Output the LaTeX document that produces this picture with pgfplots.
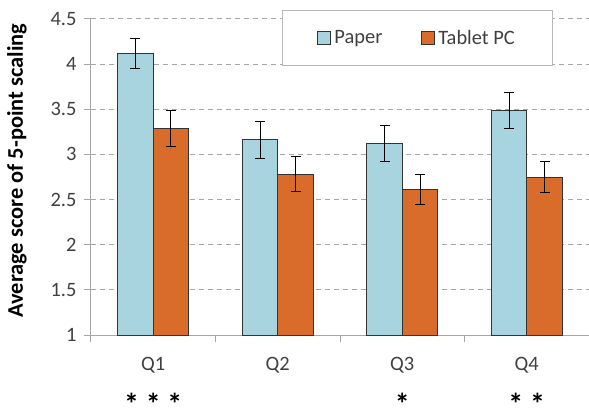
\documentclass[border=0pt]{standalone}
\usepackage{pgfplots}
\pgfplotsset{compat=1.18}
\usepackage{fontspec}
\setmainfont{Carlito}
\definecolor{paper}{HTML}{A7D4DF}
\definecolor{tablet}{HTML}{D96B2B}
\definecolor{axgray}{HTML}{A6A6A6}
\definecolor{txt}{HTML}{404040}
\newcommand{\stars}[1]{{\fontsize{30}{30}\selectfont\bfseries\color{black}#1}}
\begin{document}
\begin{tikzpicture}
\useasboundingbox (-91bp,-79bp) rectangle (498bp,335bp);
\begin{axis}[
  scale only axis,
  width=498bp, height=316bp,
  ymin=1, ymax=4.5,
  xmin=0.5, xmax=4.5,
  ytick={1,1.5,...,4.5},
  xtick={1,2,3,4},
  xticklabels={{Q1\\[19bp]\stars{* * *}},{Q2\\[19bp]\phantom{\stars{*}}},{Q3\\[19bp]\stars{*}},{Q4\\[19bp]\stars{* *}}},
  xticklabel style={align=center, anchor=north, yshift=-15bp, inner ysep=0pt},
  minor xtick={0.5,1.5,2.5,3.5,4.5},
  axis x line*=bottom, axis y line*=left,
  axis line style={axgray, line width=1bp, -},
  tick align=outside,
  major x tick style={draw=none},
  minor x tick style={axgray, line width=1bp},
  major y tick style={axgray, line width=1bp},
  major tick length=7bp, minor tick length=7bp,
  ymajorgrids,
  grid style={axgray, line width=1bp, dash pattern=on 5bp off 4bp},
  /pgf/number format/assume math mode=true,
  yticklabel style={font=\fontsize{20.5}{24}\selectfont, text=txt, xshift=-4bp},
  xticklabel style={font=\fontsize{20.5}{24}\selectfont, text=txt},
  y tick label style={/pgf/number format/fixed},
  ylabel={\textbf{Average score of 5-point scaling}},
  ylabel style={at={(axis description cs:-0.1486,0.52)}, anchor=center, font=\fontsize{22.5}{24}\selectfont},
  ybar=0pt, bar width=35.5bp,
  legend columns=2,
  legend style={at={(rel axis cs:0.3835,1.0285)}, anchor=north west, draw=axgray!80, line width=1bp,
    font=\fontsize{20.5}{24}\selectfont, text=txt, minimum height=45bp, inner xsep=35bp, inner ysep=5bp,
    /tikz/every even column/.append style={column sep=36bp},
    nodes={inner xsep=3bp}},
  legend image code/.code={\draw[#1, line width=1bp] (0bp,-6.5bp) rectangle (13bp,6.5bp);},
]
\addplot+[fill=paper, draw=black!80, line width=1bp,
  error bars/.cd, y dir=both, y explicit,
  error bar style={black, line width=1bp},
  error mark options={rotate=90, mark size=5bp, black, line width=1bp}]
  table[x=x, y=y, y error=e] {
x y e
1 4.12 0.165
2 3.16 0.21
3 3.12 0.20
4 3.49 0.20
};
\addplot+[fill=tablet, draw=black!80, line width=1bp,
  error bars/.cd, y dir=both, y explicit,
  error bar style={black, line width=1bp},
  error mark options={rotate=90, mark size=5bp, black, line width=1bp}]
  table[x=x, y=y, y error=e] {
x y e
1 3.29 0.20
2 2.78 0.195
3 2.61 0.17
4 2.75 0.175
};
\legend{Paper, Tablet PC}
\end{axis}
\end{tikzpicture}
\end{document}
